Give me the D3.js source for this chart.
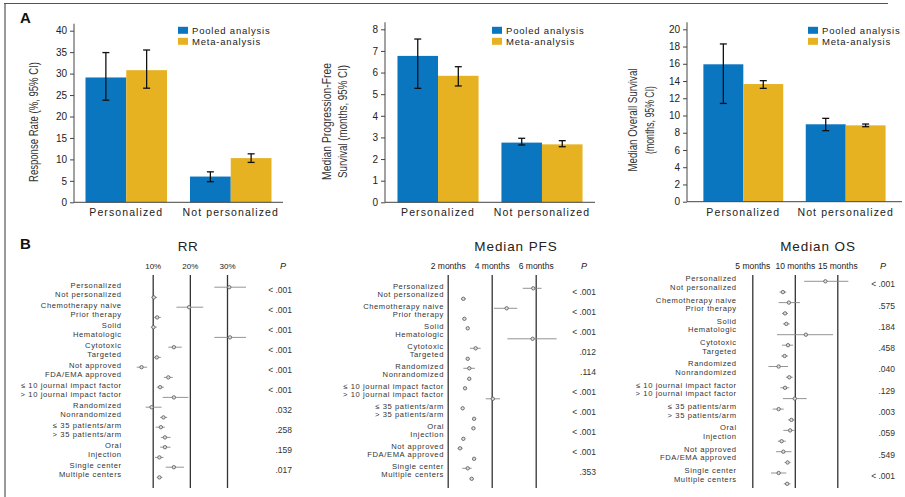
<!DOCTYPE html>
<html><head><meta charset="utf-8">
<script src="https://cdn.jsdelivr.net/npm/d3@7"></script>
<style>
html,body{margin:0;padding:0;background:#fff;}
svg{display:block;font-family:"Liberation Sans",Arial,Helvetica,sans-serif;}
</style></head><body>
<svg id="fig" width="905" height="497"></svg>
<script>
// ---------- Panel A: bar charts ----------
const barCategories = ["Personalized", "Not personalized"];
const barSeries = ["Pooled analysis", "Meta-analysis"];

const rrPooled = [29.1, 6.0], rrPooledLo = [23.8, 4.8], rrPooledHi = [34.9, 7.1];
const rrMeta = [30.8, 10.3], rrMetaLo = [26.6, 9.3], rrMetaHi = [35.5, 11.3];
const rrTicks = [0, 5, 10, 15, 20, 25, 30, 35, 40];

const pfsPooled = [6.77, 2.76], pfsPooledLo = [5.27, 2.65], pfsPooledHi = [7.55, 2.96];
const pfsMeta = [5.85, 2.68], pfsMetaLo = [5.38, 2.57], pfsMetaHi = [6.27, 2.85];
const pfsTicks = [0, 1, 2, 3, 4, 5, 6, 7, 8];

const osPooled = [15.94, 8.98], osPooledLo = [11.4, 8.24], osPooledHi = [18.3, 9.67];
const osMeta = [13.65, 8.86], osMetaLo = [13.15, 8.7], osMetaHi = [14.04, 9.01];
const osTicks = [0, 2, 4, 6, 8, 10, 12, 14, 16, 18, 20];

// ---------- Panel B: forest plots ----------
const rrLabels = ["Personalized", "Not personalized", "Chemotherapy naive", "Prior therapy",
  "Solid", "Hematologic", "Cytotoxic", "Targeted", "Not approved", "FDA/EMA approved",
  "\u2264 10 journal impact factor", "> 10 journal impact factor", "Randomized", "Nonrandomized",
  "\u2264 35 patients/arm", "> 35 patients/arm", "Oral", "Injection", "Single center", "Multiple centers"];
const rrEst = [30.6, 10.3, 19.8, 11.2, 10.2, 30.8, 15.7, 11.1, 7.0, 14.2, 12.0, 15.7, 9.7, 12.9, 12.2, 13.3, 13.3, 11.8, 15.7, 11.8];
const rrLo  = [26.6, 9.6, 16.4, 10.4, 9.5, 26.6, 14.2, 10.3, 5.7, 13.0, 11.1, 12.7, 8.1, 12.0, 10.8, 12.2, 12.0, 10.6, 13.5, 11.1];
const rrHi  = [35.1, 11.2, 23.6, 12.2, 11.1, 35.1, 17.8, 12.2, 8.5, 15.4, 13.0, 19.6, 12.4, 13.9, 13.3, 14.8, 14.8, 12.9, 18.4, 12.6];
const rrP = ["< .001", "< .001", "< .001", "< .001", "< .001", "< .001", ".032", ".258", ".159", ".017"];
const rrAxisTicks = [10, 20, 30];

const pfsLabels = ["Personalized", "Not personalized", "Chemotherapy naive", "Prior therapy",
  "Solid", "Hematologic", "Cytotoxic", "Targeted", "Randomized", "Nonrandomized",
  "\u2264 10 journal impact factor", "> 10 journal impact factor", "\u2264 35 patients/arm", "> 35 patients/arm",
  "Oral", "Injection", "Not approved", "FDA/EMA approved", "Single center", "Multiple centers"];
const pfsEst = [5.89, 2.71, 4.68, 2.76, 2.91, 5.86, 3.27, 2.91, 2.98, 2.98, 2.79, 4.05, 2.68, 3.2, 3.17, 2.71, 2.56, 3.2, 2.91, 3.09];
const pfsLo  = [5.41, 2.6, 4.1, 2.68, 2.85, 4.71, 3.01, 2.83, 2.71, 2.9, 2.73, 3.73, 2.62, 3.12, 3.09, 2.65, 2.45, 3.12, 2.66, 3.0];
const pfsHi  = [6.27, 2.83, 5.16, 2.83, 2.97, 6.95, 3.5, 2.98, 3.24, 3.06, 2.85, 4.38, 2.74, 3.28, 3.25, 2.78, 2.68, 3.28, 3.09, 3.18];
const pfsP = ["< .001", "< .001", "< .001", ".012", ".114", "< .001", "< .001", "< .001", "< .001", ".353"];
const pfsAxisTicks = [2, 4, 6];

const osLabels = pfsLabels;
const osEst = [13.6, 8.6, 9.3, 8.85, 9.0, 11.3, 9.2, 8.8, 8.1, 9.35, 8.85, 10.0, 8.1, 9.6, 9.45, 8.45, 8.65, 9.15, 8.1, 9.1];
const osLo  = [11.1, 8.2, 8.1, 8.5, 8.6, 7.9, 8.5, 8.4, 6.9, 8.95, 8.3, 8.6, 7.4, 9.2, 8.65, 8.0, 7.8, 8.8, 7.2, 8.7];
const osHi  = [16.3, 9.0, 10.6, 9.2, 9.4, 14.5, 9.8, 9.2, 9.2, 9.75, 9.35, 11.4, 8.7, 10.0, 10.0, 8.95, 9.6, 9.5, 9.0, 9.5];
const osP = ["< .001", ".575", ".184", ".458", ".040", ".129", ".003", ".059", ".549", "< .001"];
const osAxisTicks = [5, 10, 15];

const BLUE = "#0a76c0", GOLD = "#e7b222", INK = "#222";

const svg = d3.select("#fig");
svg.append("rect").attr("width", 905).attr("height", 497).attr("fill", "#fff");

// figure frame (top and left rules)
svg.append("line").attr("x1", 4).attr("x2", 888).attr("y1", 3.5).attr("y2", 3.5)
  .attr("stroke", "#555").attr("stroke-width", 1.2);
svg.append("line").attr("x1", 5).attr("x2", 5).attr("y1", 3).attr("y2", 497)
  .attr("stroke", "#555").attr("stroke-width", 1.2);

svg.append("text").attr("x", 20).attr("y", 23).attr("font-size", 15).attr("font-weight", "bold")
  .attr("fill", "#111").text("A");
svg.append("text").attr("x", 20).attr("y", 249).attr("font-size", 15).attr("font-weight", "bold")
  .attr("fill", "#111").text("B");

function barChart(o) {
  const g = svg.append("g");
  const y = d3.scaleLinear().domain([0, o.ticks[o.ticks.length - 1]]).range([o.yBottom, o.yTop]);
  const x = d3.scaleBand().domain(barCategories).range([o.left, o.right])
    .paddingInner(0.22).paddingOuter(o.padOuter);
  const xs = d3.scaleBand().domain(barSeries).range([0, x.bandwidth()]);

  const series = [
    { name: barSeries[0], v: o.pooled, lo: o.pooledLo, hi: o.pooledHi, color: BLUE },
    { name: barSeries[1], v: o.meta, lo: o.metaLo, hi: o.metaHi, color: GOLD }
  ];
  series.forEach(s => {
    barCategories.forEach((c, i) => {
      const bx = x(c) + xs(s.name);
      g.append("rect").attr("x", bx).attr("y", y(s.v[i]))
        .attr("width", xs.bandwidth()).attr("height", y(0) - y(s.v[i])).attr("fill", s.color);
      const cx = bx + xs.bandwidth() / 2;
      g.append("line").attr("x1", cx).attr("x2", cx).attr("y1", y(s.lo[i])).attr("y2", y(s.hi[i]))
        .attr("stroke", "#111").attr("stroke-width", 1.3);
      [s.lo[i], s.hi[i]].forEach(e => g.append("line").attr("x1", cx - 3.5).attr("x2", cx + 3.5)
        .attr("y1", y(e)).attr("y2", y(e)).attr("stroke", "#111").attr("stroke-width", 1.3));
    });
  });

  // axes
  const ya = g.append("g").attr("transform", `translate(${o.left},0)`)
    .call(d3.axisLeft(y).tickValues(o.ticks).tickSize(4).tickPadding(3));
  ya.select(".domain").remove();
  ya.selectAll("line").attr("stroke", "#444");
  ya.selectAll("text").attr("font-size", 10).attr("fill", INK).attr("font-family", null);
  g.append("line").attr("x1", o.left).attr("x2", o.left).attr("y1", y(0)).attr("y2", o.yTop - 7)
    .attr("stroke", "#444").attr("stroke-width", 1);
  g.append("line").attr("x1", o.left).attr("x2", o.right).attr("y1", y(0)).attr("y2", y(0))
    .attr("stroke", "#444").attr("stroke-width", 1);

  barCategories.forEach(c => {
    g.append("text").attr("x", x(c) + x.bandwidth() / 2).attr("y", 215.5)
      .attr("text-anchor", "middle").attr("font-size", 10.5).attr("letter-spacing", 1.1)
      .attr("fill", INK).text(c);
  });

  // rotated axis title
  const cy = o.titleY;
  o.titleLines.forEach((t, k) => {
    g.append("text").attr("transform", `translate(${o.titleX[k]},${cy}) rotate(-90)`)
      .attr("text-anchor", "middle").attr("dy", "0.35em").attr("font-size", 12.5)
      .attr("textLength", o.titleLen[k]).attr("lengthAdjust", "spacingAndGlyphs")
      .attr("fill", "#333").text(t);
  });

  // legend
  series.forEach((s, k) => {
    g.append("rect").attr("x", o.legendX).attr("y", 26.8 + k * 11).attr("width", 10).attr("height", 7)
      .attr("fill", s.color);
    g.append("text").attr("x", o.legendX + 14).attr("y", 33.6 + k * 11).attr("font-size", 9.5)
      .attr("letter-spacing", 0.8).attr("fill", INK).text(s.name);
  });
}

barChart({ left: 74, right: 283, yTop: 30.7, yBottom: 202.3, padOuter: 0.11, ticks: rrTicks,
  pooled: rrPooled, pooledLo: rrPooledLo, pooledHi: rrPooledHi, meta: rrMeta, metaLo: rrMetaLo, metaHi: rrMetaHi,
  titleLines: ["Response Rate (%, 95% CI)"], titleX: [34], titleLen: [120], titleY: 122, legendX: 178 });

barChart({ left: 385, right: 595, yTop: 29.3, yBottom: 202.3, padOuter: 0.12, ticks: pfsTicks,
  pooled: pfsPooled, pooledLo: pfsPooledLo, pooledHi: pfsPooledHi, meta: pfsMeta, metaLo: pfsMetaLo, metaHi: pfsMetaHi,
  titleLines: ["Median Progression-Free", "Survival (months, 95% CI)"], titleX: [327, 343], titleLen: [117, 113],
  titleY: 121.5, legendX: 492 });

barChart({ left: 687, right: 902, yTop: 29.3, yBottom: 201.7, padOuter: 0.16, ticks: osTicks,
  pooled: osPooled, pooledLo: osPooledLo, pooledHi: osPooledHi, meta: osMeta, metaLo: osMetaLo, metaHi: osMetaHi,
  titleLines: ["Median Overall Survival", "(months, 95% CI)"], titleX: [633, 650], titleLen: [103, 68],
  titleY: 120, legendX: 808 });

function forest(o) {
  const g = svg.append("g");
  const x = d3.scaleLinear().domain([o.ticks[0], o.ticks[o.ticks.length - 1]]).range([o.x0, o.x1]);
  const lineTop = 275, lineBottom = 488;

  g.append("text").attr("x", o.titleX).attr("y", 251).attr("text-anchor", "middle")
    .attr("font-size", 13.5).attr("letter-spacing", o.titleSpacing).attr("fill", "#222").text(o.title);

  const ax = g.append("g").attr("transform", `translate(0,${lineTop})`)
    .call(d3.axisTop(x).tickValues(o.ticks).tickFormat(o.fmt).tickSize(-(lineBottom - lineTop)).tickPadding(6));
  ax.select(".domain").remove();
  ax.selectAll("line").attr("stroke", "#333").attr("stroke-width", 1.3);
  ax.selectAll("text").attr("font-size", o.tickFont).attr("fill", INK).attr("font-family", null);

  g.append("text").attr("x", o.pHeadX).attr("y", 269).attr("text-anchor", "middle")
    .attr("font-size", 9).attr("font-style", "italic").attr("fill", INK).text("P");

  const groupY = i => o.top + i * o.step;

  // two-line subgroup labels, set tight like the printed table
  o.labels.forEach((t, k) => {
    const gi = Math.floor(k / 2);
    g.append("text").attr("x", o.labelX).attr("y", groupY(gi) - 0.7 + (k % 2) * 8.6)
      .attr("dy", "0.35em").attr("text-anchor", "end").attr("font-size", 7.6)
      .attr("letter-spacing", 0.6).attr("fill", "#333").text(t);
  });

  o.est.forEach((v, k) => {
    const gi = Math.floor(k / 2);
    const py = groupY(gi) + (k % 2 ? o.off2 : o.off1);
    g.append("line").attr("x1", x(o.lo[k])).attr("x2", x(o.hi[k])).attr("y1", py).attr("y2", py)
      .attr("stroke", "#888").attr("stroke-width", 0.9);
    g.append("circle").attr("cx", x(v)).attr("cy", py).attr("r", 1.7)
      .attr("fill", "#ddd").attr("stroke", "#555").attr("stroke-width", 0.8);
  });

  o.pvals.forEach((p, i) => {
    g.append("text").attr("x", o.pX).attr("y", groupY(i) + o.offP).attr("dy", "0.35em")
      .attr("text-anchor", "end").attr("font-size", 8.5).attr("fill", "#333").text(p);
  });
}

forest({ title: "RR", titleX: 188, titleSpacing: 0.5, ticks: rrAxisTicks, fmt: d => d + "%", tickFont: 8,
  x0: 152.7, x1: 227, labelX: 121.7, pX: 292, pHeadX: 283, top: 286.2, step: 20,
  labels: rrLabels, est: rrEst, lo: rrLo, hi: rrHi, pvals: rrP, off1: 1, off2: 11.2, offP: 3.5 });

forest({ title: "Median PFS", titleX: 516, titleSpacing: 0.9, ticks: pfsAxisTicks, fmt: d => d + " months", tickFont: 8.5,
  x0: 447.7, x1: 535.7, labelX: 444, pX: 596, pHeadX: 584, top: 286.8, step: 20,
  labels: pfsLabels, est: pfsEst, lo: pfsLo, hi: pfsHi, pvals: pfsP, off1: 1.5, off2: 12, offP: 5.5 });

forest({ title: "Median OS", titleX: 818, titleSpacing: 0.9, ticks: osAxisTicks, fmt: d => d + " months", tickFont: 8.5,
  x0: 752.3, x1: 837.3, labelX: 736.7, pX: 895, pHeadX: 883, top: 279.3, step: 21.3,
  labels: osLabels, est: osEst, lo: osLo, hi: osHi, pvals: osP, off1: 2, off2: 12.8, offP: 5 });
</script>
</body></html>
